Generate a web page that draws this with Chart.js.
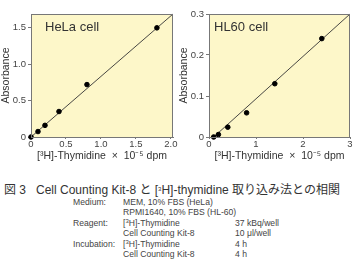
<!DOCTYPE html>
<html>
<head>
<meta charset="utf-8">
<script src="https://cdn.jsdelivr.net/npm/chart.js@4.4.0/dist/chart.umd.min.js"></script>
<style>
  body { margin: 0; background: #fff; width: 355px; height: 266px; overflow: hidden; position: relative;
         font-family: "Liberation Sans", Arial, "Noto Sans CJK JP", sans-serif; color: #333; }
  .box { position: absolute; top: 0; height: 162px; }
  #caption { position: absolute; left: 4px; top: 180px; font-size: 12px; white-space: nowrap; color: #333;
             font-family: "Liberation Sans", Arial, "Noto Sans CJK JP", sans-serif; }
  #cond { position: absolute; left: 73px; top: 197px; font-size: 8.6px; line-height: 10.4px; color: #444; }
  #cond td { padding: 0; white-space: nowrap; vertical-align: top; }
  sup { font-size: 6px; vertical-align: 3px; line-height: 0; }
</style>
</head>
<body>
<div class="box" style="left:0;width:178px"><canvas id="hela"></canvas></div>
<div class="box" style="left:178px;width:177px"><canvas id="hl60"></canvas></div>
<div id="caption">図 3&nbsp;&nbsp; Cell Counting Kit-8 と [<sup>3</sup>H]-thymidine 取り込み法との相関</div>
<table id="cond" cellspacing="0">
  <tr><td style="width:50px">Medium:</td><td style="width:112px">MEM, 10% FBS (HeLa)</td><td></td></tr>
  <tr><td></td><td colspan="2">RPMI1640, 10% FBS (HL-60)</td></tr>
  <tr><td>Reagent:</td><td>[<sup>3</sup>H]-Thymidine</td><td>37 kBq/well</td></tr>
  <tr><td></td><td>Cell Counting Kit-8</td><td>10 μl/well</td></tr>
  <tr><td>Incubation:</td><td>[<sup>3</sup>H]-Thymidine</td><td>4 h</td></tr>
  <tr><td></td><td>Cell Counting Kit-8</td><td>4 h</td></tr>
</table>
<script>
// HeLa cell
const helaX = [0, 0.1, 0.2, 0.4, 0.8, 1.8];
const helaY = [0, 0.075, 0.16, 0.35, 0.72, 1.5];
const helaFitX = [0, 2.03];
const helaFitY = [0, 1.69];
const helaXTicks = [0, 0.5, 1.0, 1.5, 2.0];
const helaYTicks = [0, 0.5, 1.0, 1.5];

// HL60 cell
const hl60X = [0.1, 0.2, 0.4, 0.8, 1.4, 2.4];
const hl60Y = [0, 0.006, 0.024, 0.059, 0.13, 0.24];
const hl60FitX = [0.1, 3];
const hl60FitY = [0, 0.3];
const hl60XTicks = [0, 1, 2, 3];
const hl60YTicks = [0, 0.1, 0.2, 0.3];

const xTitle = '[³H]-Thymidine  ×  10⁻⁵ dpm';
const FONT = '"Liberation Sans", Arial, sans-serif';

const panelPlugin = {
  id: 'panel',
  beforeDatasetsDraw(chart, args, opts) {
    const a = chart.chartArea, ctx = chart.ctx;
    ctx.save();
    ctx.fillStyle = '#fdf7c9';
    ctx.fillRect(a.left, a.top, a.right - a.left, a.bottom - a.top);
    ctx.fillStyle = '#333';
    ctx.font = '13px ' + FONT;
    ctx.textBaseline = 'middle';
    ctx.fillText(opts.label, a.left + opts.dx, a.top + 13);
    ctx.restore();
  },
  afterDatasetsDraw(chart) {
    const a = chart.chartArea, ctx = chart.ctx;
    ctx.save();
    ctx.strokeStyle = '#777';
    ctx.lineWidth = 1;
    ctx.strokeRect(a.left + 0.5, a.top + 0.5, a.right - a.left - 1, a.bottom - a.top);
    ctx.restore();
  }
};

function fmt(v, dec) { return v === 0 ? '0' : v.toFixed(dec); }

function makeChart(id, xs, ys, fx, fy, xt, yt, xmax, ymax, xdec, ydec, label, dx) {
  new Chart(document.getElementById(id), {
    type: 'scatter',
    data: {
      datasets: [
        {
          data: xs.map((x, i) => ({x: x, y: ys[i]})),
          backgroundColor: '#000', borderColor: '#000',
          pointRadius: 2.3, pointHoverRadius: 2.3
        },
        {
          data: fx.map((x, i) => ({x: x, y: fy[i]})),
          showLine: true, borderColor: '#333', borderWidth: 0.9,
          pointRadius: 0
        }
      ]
    },
    options: {
      responsive: true,
      maintainAspectRatio: false,
      animation: false,
      clip: false,
      layout: { padding: { top: 14, right: 5, left: 0, bottom: 0 } },
      plugins: {
        legend: { display: false },
        tooltip: { enabled: false },
        panel: { label: label, dx: dx }
      },
      scales: {
        x: {
          min: 0, max: xmax,
          afterBuildTicks: s => { s.ticks = xt.map(v => ({value: v})); },
          afterFit: s => { s.height = 25; },
          ticks: { callback: v => fmt(v, xdec), color: '#444', font: { size: 9.5, family: FONT }, padding: 0, maxRotation: 0 },
          grid: { drawOnChartArea: false, tickLength: 2, color: '#777' },
          border: { color: '#777' },
          title: { display: true, text: xTitle, color: '#333', font: { size: 10.5, family: FONT }, padding: { top: 0, bottom: 0 } }
        },
        y: {
          min: 0, max: ymax,
          afterBuildTicks: s => { s.ticks = yt.map(v => ({value: v})); },
          afterFit: s => { s.width = 31; },
          ticks: { callback: v => fmt(v, ydec), color: '#444', font: { size: 9.5, family: FONT }, padding: 2 },
          grid: { drawOnChartArea: false, tickLength: 3, color: '#777' },
          border: { color: '#777' },
          title: { display: true, text: 'Absorbance', color: '#333', font: { size: 10.5, family: FONT }, padding: 0 }
        }
      }
    },
    plugins: [panelPlugin]
  });
}

makeChart('hela', helaX, helaY, helaFitX, helaFitY, helaXTicks, helaYTicks, 2.03, 1.69, 1, 1, 'HeLa cell', 14);
makeChart('hl60', hl60X, hl60Y, hl60FitX, hl60FitY, hl60XTicks, hl60YTicks, 3, 0.3, 0, 1, 'HL60 cell', 5);
</script>
</body>
</html>
